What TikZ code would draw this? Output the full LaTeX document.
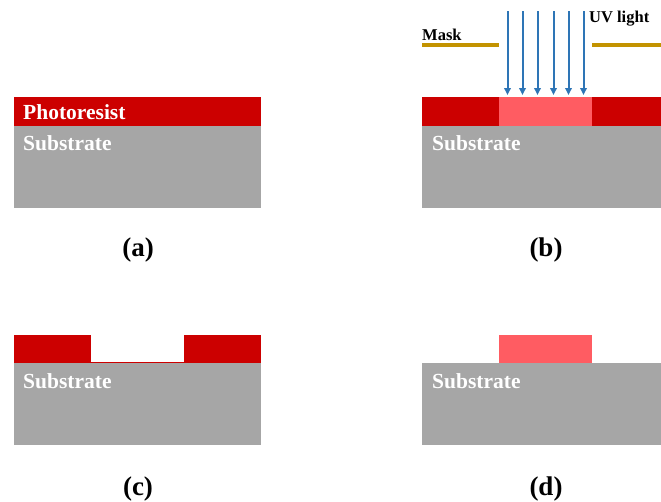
\documentclass[tikz,border=0pt]{standalone}
\usepackage{fontspec}
\setmainfont{Liberation Serif}
\usetikzlibrary{arrows.meta}
\definecolor{resist}{HTML}{CC0000}
\definecolor{exposed}{HTML}{FF5C62}
\definecolor{subst}{HTML}{A6A6A6}
\definecolor{maskc}{HTML}{C39300}
\definecolor{uv}{HTML}{2E75B6}
\tikzset{
  lbl/.style={inner sep=0pt, anchor=base west, text=white, font=\bfseries\fontsize{21.5}{24}\selectfont},
  panelcap/.style={inner sep=0pt, anchor=base, font=\bfseries\fontsize{27}{30}\selectfont},
  small/.style={inner sep=0pt, anchor=base west, font=\bfseries\fontsize{16.5}{19}\selectfont},
  maskline/.style={draw=maskc, line width=4pt},
  uvarrow/.style={draw=uv, line width=2pt, -{Triangle[width=6.5pt,length=7pt]}}
}
\begin{document}
\begin{tikzpicture}[x=1pt,y=-1pt]
\useasboundingbox (0,0) rectangle (661,501);
% (a)
\fill[subst] (14,126) rectangle (261,208);
\fill[resist] (14,97) rectangle (261,126);
\node[lbl] (pr) at (23,119) {Photoresist};
\node[lbl] (sa) at (23,150) {Substrate};
\node[panelcap] (ca) at (138,256) {(a)};
% (b)
\fill[subst] (422,126) rectangle (661,208);
\fill[resist] (422,97) rectangle (499,126);
\fill[exposed] (499,97) rectangle (592,126);
\fill[resist] (592,97) rectangle (661,126);
\draw[maskline] (422,44.5) -- (499,44.5);
\draw[maskline] (592,44.5) -- (661,44.5);
\node[small] (mk) at (422,40) {Mask};
\node[small] (uvl) at (589,22) {UV light};
\foreach \i/\xx in {1/507.5,2/522.5,3/537.5,4/553.5,5/568.5,6/583.5}{
  \coordinate (t\i) at (\xx,11);
  \coordinate (b\i) at (\xx,95);
  \draw[uvarrow] (t\i) -- (b\i);
}
\node[lbl] (sb) at (432,150) {Substrate};
\node[panelcap] (cb) at (546,256) {(b)};
% (c)
\fill[subst] (14,363) rectangle (261,445);
\fill[resist] (14,335) rectangle (91,363);
\fill[resist] (184,335) rectangle (261,363);
\fill[resist] (91,362) rectangle (184,363);
\node[lbl] (sc) at (23,388) {Substrate};
\node[panelcap] (cc) at (138,495) {(c)};
% (d)
\fill[subst] (422,363) rectangle (661,445);
\fill[exposed] (499,335) rectangle (592,363);
\node[lbl] (sd) at (432,388) {Substrate};
\node[panelcap] (cd) at (546,495) {(d)};
\end{tikzpicture}
\end{document}
